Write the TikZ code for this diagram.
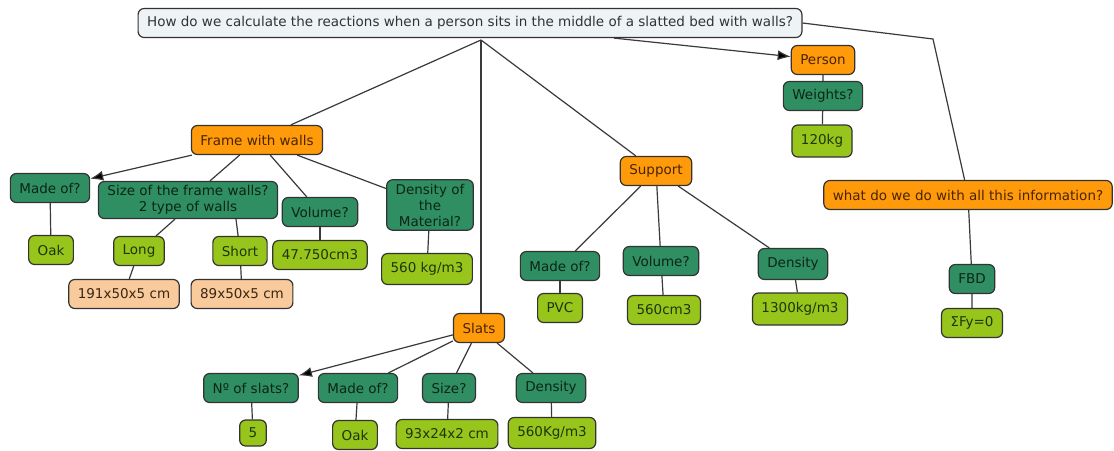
\documentclass[tikz,border=0pt]{standalone}
\usepackage{fontspec}
\setmainfont{DejaVu Sans}
\usetikzlibrary{positioning, arrows.meta, calc}
\definecolor{topicorange}{HTML}{FF9A0A}
\definecolor{topictext}{HTML}{4A2400}
\definecolor{questgreen}{HTML}{2F8F62}
\definecolor{questtext}{HTML}{0C2517}
\definecolor{answergreen}{HTML}{98C51C}
\definecolor{answertext}{HTML}{1E3608}
\definecolor{dimpeach}{HTML}{F9CB9C}
\definecolor{dimtext}{HTML}{3A2614}
\definecolor{mainfill}{HTML}{EEF3F6}
\definecolor{boxline}{HTML}{333333}
\definecolor{linkgray}{HTML}{3A3A3A}

\begin{document}
\begin{tikzpicture}[x=1pt, y=-1pt,
  every node/.style={font=\fontsize{13.5}{16}\selectfont},
  box/.style={draw=boxline, rounded corners=6pt, line width=1.2pt,
              inner xsep=9pt, inner ysep=4pt, minimum height=29pt, align=center},
  mainq/.style={box, fill=mainfill, text=black!80},
  topic/.style={box, fill=topicorange, text=topictext},
  quest/.style={box, fill=questgreen, text=questtext},
  answer/.style={box, fill=answergreen, text=answertext},
  dims/.style={box, fill=dimpeach, text=dimtext},
  link/.style={draw=linkgray, line width=1.2pt},
  arrowlink/.style={link, -{Latex[length=13pt, width=10pt, fill=black]}}]

  \fill[white] (0,0) rectangle (1114,450);
  \useasboundingbox (0,0) rectangle (1114,450);

  % main question
  \node[mainq] (q) at (470,23)
    {How do we calculate the reactions when a person sits in the middle of a slatted bed with walls?};
  \coordinate (hub) at (481,40);
  \coordinate (bend) at (933,39);

  % person
  \node[topic]  (person)  at (823,60)  {Person};
  \node[quest]  (weights) at (823,96)  {Weights?};
  \node[answer, minimum height=32pt] (kg) at (822,141) {120kg};

  % what to do
  \node[topic]  (info)  at (968,195) {what do we do with all this information?};
  \node[quest]  (fbd)   at (972,279) {FBD};
  \node[answer] (sumfy) at (972,323) {ΣFy=0};

  % frame with walls
  \node[topic]  (frame)    at (257,140) {Frame with walls};
  \node[quest]  (fmade)    at (50,188)  {Made of?};
  \node[quest]  (fsize)    at (188,200) {Size of the frame walls?\\2 type of walls};
  \node[quest]  (fvol)     at (320,212) {Volume?};
  \node[quest]  (fdens)    at (430,205) {Density of\\the\\Material?};
  \node[answer] (foak)     at (51,250)  {Oak};
  \node[answer] (flong)    at (139,251) {Long};
  \node[answer] (fshort)   at (240,251) {Short};
  \node[answer] (fvolval)  at (320,255) {47.750cm3};
  \node[answer, minimum height=31pt] (fdensval) at (427,269) {560 kg/m3};
  \node[dims]   (longdim)  at (124,294) {191x50x5 cm};
  \node[dims]   (shortdim) at (242,294) {89x50x5 cm};

  % support
  \node[topic]  (support)  at (656,171) {Support};
  \node[quest]  (smade)    at (560,266) {Made of?};
  \node[quest]  (svol)     at (661,261) {Volume?};
  \node[quest, minimum height=31pt] (sdens) at (793,264) {Density};
  \node[answer] (pvc)      at (560,308) {PVC};
  \node[answer] (svolval)  at (664,310) {560cm3};
  \node[answer, minimum height=32pt] (sdensval) at (800,309) {1300kg/m3};

  % slats
  \node[topic]  (slats)    at (479,328) {Slats};
  \node[quest]  (nslats)   at (251,388) {Nº of slats?};
  \node[quest]  (lmade)    at (358,388) {Made of?};
  \node[quest]  (lsize)    at (449,388) {Size?};
  \node[quest]  (ldens)    at (551,388) {Density};
  \node[answer, minimum height=26pt] (five) at (253,433) {5};
  \node[answer] (loak)     at (355,435) {Oak};
  \node[answer] (lsizeval) at (447,434) {93x24x2 cm};
  \node[answer, minimum height=31pt] (ldensval) at (552,433) {560Kg/m3};

  % links
  \draw[link] (hub) -- (frame);
  \draw[link] (hub) -- (hub |- slats.north);
  \draw[link] (hub) -- (support);
  \draw[arrowlink] (q) -- (person);
  \draw[link] (q.east) -- (bend) -- (info);
  \draw[link] (person) -- (weights) -- (kg);
  \draw[link] (info) -- (fbd) -- (sumfy);

  \draw[arrowlink] (frame) -- (fmade);
  \draw[link] (frame) -- (fsize);
  \draw[link] (frame) -- (fvol);
  \draw[link] (frame) -- (fdens);
  \draw[link] (fmade) -- (foak);
  \draw[link] ([xshift=-13pt]fsize.south) -- (flong);
  \draw[link] ([xshift=48pt]fsize.south) -- (fshort);
  \draw[link] (fvol) -- (fvolval);
  \draw[link] (fdens) -- (fdensval);
  \draw[link] (flong) -- (longdim);
  \draw[link] (fshort) -- (shortdim);

  \draw[link] (support) -- (smade);
  \draw[link] (support) -- (svol);
  \draw[link] (support) -- (sdens);
  \draw[link] (smade) -- (pvc);
  \draw[link] (svol) -- (svolval);
  \draw[link] (sdens) -- (sdensval);

  \draw[arrowlink] (slats) -- (nslats);
  \draw[link] (slats) -- (lmade);
  \draw[link] (slats) -- (lsize);
  \draw[link] (slats) -- (ldens);
  \draw[link] (nslats) -- (five);
  \draw[link] (lmade) -- (loak);
  \draw[link] (lsize) -- (lsizeval);
  \draw[link] (ldens) -- (ldensval);
\end{tikzpicture}
\end{document}
